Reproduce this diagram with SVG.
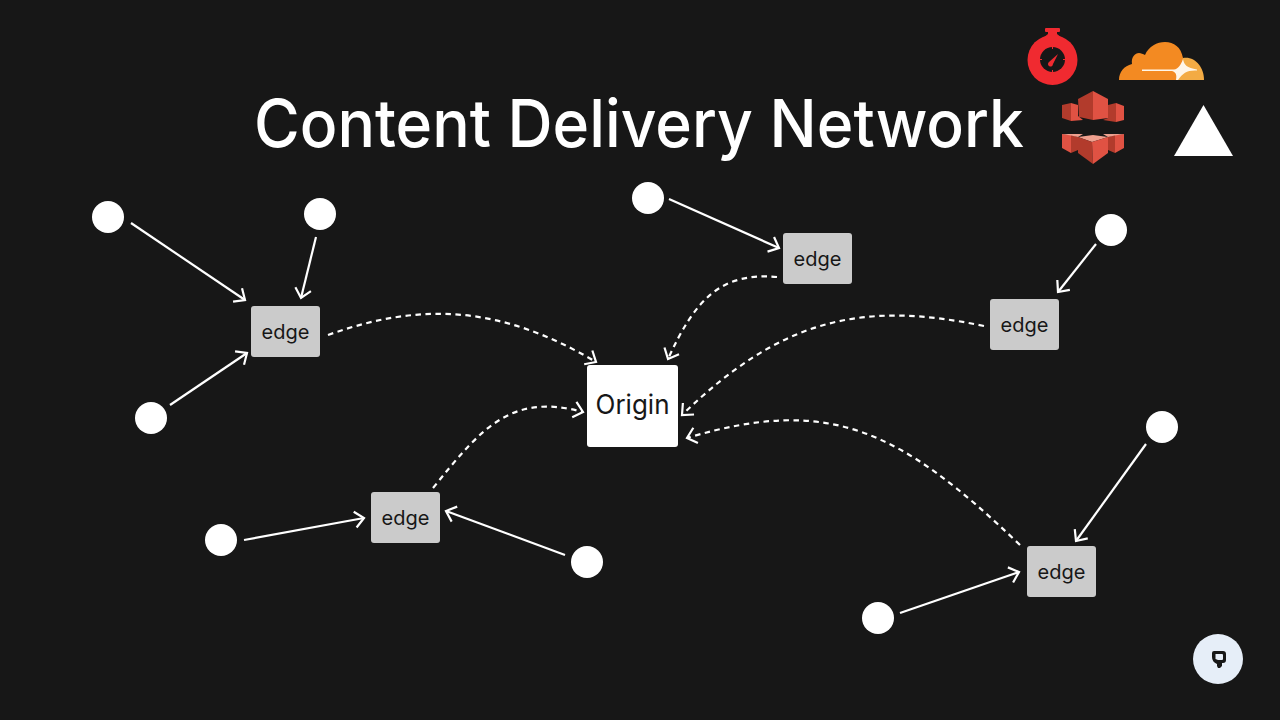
<svg xmlns="http://www.w3.org/2000/svg" width="1280" height="720" viewBox="0 0 1280 720">
<style>
.t{font-family:Inter,"Liberation Sans",sans-serif}
.edge rect{fill:#cbcbcb}
.edge text{font-size:20px;fill:#171717;text-anchor:middle}
.c{fill:none;stroke:#fff;stroke-width:2.2}
.d{stroke-dasharray:5.500 4.500}
.u{fill:#fff}
.r{fill:#e05243}.k{fill:#b23b2c}.p{fill:#efa08f}
.tick{stroke:#f02a30;stroke-width:1}
</style>
<defs>
<marker id="a" markerUnits="userSpaceOnUse" markerWidth="24" markerHeight="24" refX="12" refY="10" orient="auto" overflow="visible"><path d="M3 2 L12 10 L3 18" fill="none" stroke="#fff" stroke-width="2.2"/></marker>
</defs>
<rect width="1280" height="720" fill="#171717"/>
<text id="title" class="t" x="254" y="147" font-size="66" font-weight="450" fill="#fff" textLength="770" lengthAdjust="spacingAndGlyphs">Content Delivery Network</text>
<g id="connectors">
<path class="c" d="M131 223 L245 300" marker-end="url(#a)"/>
<path class="c" d="M316 237 L301 298" marker-end="url(#a)"/>
<path class="c" d="M170 405 L247 353" marker-end="url(#a)"/>
<path class="c" d="M244 540 L364 518" marker-end="url(#a)"/>
<path class="c" d="M565 555 L446 511" marker-end="url(#a)"/>
<path class="c" d="M669 199 L779 248" marker-end="url(#a)"/>
<path class="c" d="M1096 244 L1058 292" marker-end="url(#a)"/>
<path class="c" d="M1146 444 L1076 541" marker-end="url(#a)"/>
<path class="c" d="M900 613 L1019 572" marker-end="url(#a)"/>
<path class="c d" d="M328 335 C420 302 500 305 596 362" marker-end="url(#a)"/>
<path class="c d" d="M433 488 C480 430 510 392 583 412" marker-end="url(#a)"/>
<path class="c d" d="M777 277 C720 272 695 300 668 359" marker-end="url(#a)"/>
<path class="c d" d="M984 326 C860 300 780 320 682 415" marker-end="url(#a)"/>
<path class="c d" d="M1020 545 C900 430 830 395 687 438" marker-end="url(#a)"/>
</g>
<g id="clients" class="u">
<circle id="c1" cx="108" cy="217" r="16"/>
<circle id="c2" cx="320" cy="214" r="16"/>
<circle id="c3" cx="151" cy="418" r="16"/>
<circle id="c4" cx="221" cy="540" r="16"/>
<circle id="c5" cx="587" cy="562" r="16"/>
<circle id="c6" cx="648" cy="198" r="16"/>
<circle id="c7" cx="1111" cy="230" r="16"/>
<circle id="c8" cx="1162" cy="427" r="16"/>
<circle id="c9" cx="878" cy="618" r="16"/>
</g>
<g id="origin"><rect x="587" y="365" width="91" height="82" rx="3" fill="#fff"/><text class="t" x="632.5" y="414" font-size="27" fill="#171717" text-anchor="middle" textLength="74" lengthAdjust="spacingAndGlyphs">Origin</text></g>
<g id="edge1" class="edge"><rect x="251" y="306" width="69" height="51" rx="3"/><text class="t" x="285.500" y="339">edge</text></g>
<g id="edge2" class="edge"><rect x="371" y="492" width="69" height="51" rx="3"/><text class="t" x="405.500" y="525">edge</text></g>
<g id="edge3" class="edge"><rect x="783" y="233" width="69" height="51" rx="3"/><text class="t" x="817.500" y="266">edge</text></g>
<g id="edge4" class="edge"><rect x="990" y="299" width="69" height="51" rx="3"/><text class="t" x="1024.500" y="332">edge</text></g>
<g id="edge5" class="edge"><rect x="1027" y="546" width="69" height="51" rx="3"/><text class="t" x="1061.500" y="579">edge</text></g>
<g id="logo-timer">
<rect x="1045" y="28" width="15" height="4" rx="1" fill="#f02a30"/>
<path d="M1048 31 L1057 31 L1057 34 L1062 38 L1043 38 L1048 34 Z" fill="#f02a30"/>
<circle cx="1052.500" cy="60" r="25" fill="#f02a30"/>
<circle cx="1052.500" cy="59.500" r="12.500" fill="#171717"/>
<path class="tick" d="M1052.500 47 V49 M1052.500 70 V72 M1040 59.500 H1042 M1063 59.500 H1065"/>
<path d="M1049 62 L1058 54 L1053 64 A2.500 2.500 0 1 1 1049 62 Z" fill="#f02a30"/>
</g>
<g id="logo-cloud">
<path d="M1119 80 C1119 72 1124 66 1132 64 C1131 57 1135 53 1139 53 C1141 53 1143 54 1145 55 C1149 46 1157 42 1165 42 C1174 42 1181 47 1183 58 L1182 80 Z" fill="#f38a22"/>
<path d="M1177 80 L1183 58 C1195 56 1204 67 1204 80 Z" fill="#f3ab44"/>
<path d="M1142 69.500 L1174 69.500 C1178 69 1181 65 1183 59 C1184 65 1187 68 1197 69.500 L1197 70.500 C1187 70 1183 73 1178 80 L1176 80 C1177 75 1176 72 1172 71 L1142 71 Z" fill="#fff6e8"/>
</g>
<g id="logo-aws">
<path class="r" d="M1093 91 L1108 99 L1108 118 L1093 120 Z"/>
<path class="k" d="M1093 91 L1078 99 L1079 117 L1093 120 Z"/>
<path class="k" d="M1062 105 L1071 103 L1071 121 L1062 118 Z"/>
<path class="r" d="M1071 103 L1078 105 L1078 116 L1083 120 L1071 121 Z"/>
<path class="k" d="M1108 105 L1116 103 L1116 122 L1103 120 L1108 118 Z"/>
<path class="r" d="M1116 103 L1124 106 L1124 120 L1116 122 Z"/>
<path class="r" d="M1062 134 L1071 135 L1071 153 L1062 148 Z"/>
<path class="k" d="M1071 135 L1078 137 L1078 150 L1071 153 Z"/>
<path class="p" d="M1062 134 L1083 134 L1078 137 L1071 135.500 Z"/>
<path class="k" d="M1108 137 L1115 135 L1115 153 L1108 150 Z"/>
<path class="r" d="M1115 135 L1124 134 L1124 148 L1115 153 Z"/>
<path class="p" d="M1103 134 L1124 134 L1115 135.500 L1108 137 Z"/>
<path class="p" d="M1078 137 L1093 135 L1108 137 L1092 142 Z"/>
<path class="k" d="M1078 137 L1092 142 L1093 164 L1078 153 Z"/>
<path class="r" d="M1092 142 L1108 137 L1108 153 L1093 164 Z"/>
</g>
<path id="logo-triangle" d="M1203.500 105 L1233 156 L1174 156 Z" fill="#fff"/>
<g id="badge">
<circle cx="1218" cy="659" r="25" fill="#e6eef8"/>
<path d="M1214 651 L1223 651 Q1226 651 1226 654 L1226 660 Q1226 663 1223 663 L1222 663 L1222 666 L1220 668 L1218 668 L1217 666 L1217 664 Q1212 662 1212 657 L1212 653 Q1212 651 1214 651 Z M1215.500 654 L1215.500 659 L1218 660 L1222 660 Q1223 660 1223 659 L1223 655 Q1223 654 1222 654 Z" fill="#171717" fill-rule="evenodd"/>
</g>
</svg>
